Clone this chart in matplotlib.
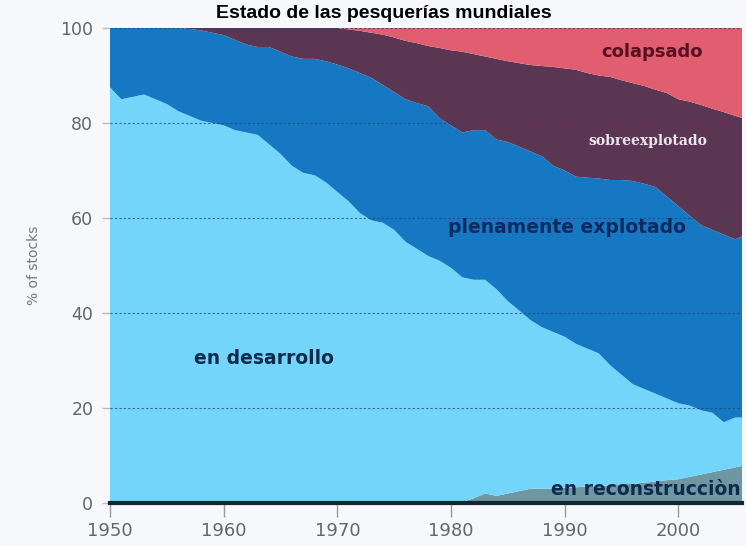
import matplotlib.pyplot as plt
import numpy as np

years = np.arange(1950, 2007)

# upper edge of each band, % of stocks (cumulative from the bottom)
top_reconstruccion = [0, 0, 0, 0, 0, 0, 0, 0, 0, 0,
                      0, 0, 0, 0, 0, 0, 0, 0, 0, 0,
                      0, 0, 0, 0, 0, 0, 0, 0, 0, 0,
                      0, 0.2, 1.0, 2.0, 1.5, 2.0, 2.5, 3.0, 3.0, 3.0,
                      3.2, 3.3, 3.5, 3.5, 3.8, 4.0, 4.0, 4.3, 4.5, 4.8,
                      5.0, 5.5, 6.0, 6.5, 7.0, 7.5, 8.0]
top_desarrollo = [87.5, 85, 85.5, 86, 85, 84, 82.5, 81.5, 80.5, 80,
                  79.5, 78.5, 78, 77.5, 75.5, 73.5, 71, 69.5, 69, 67.5,
                  65.5, 63.5, 61, 59.5, 59, 57.5, 55, 53.5, 52, 51,
                  49.5, 47.5, 47, 47, 45, 42.5, 40.5, 38.5, 37, 36,
                  35, 33.5, 32.5, 31.5, 29, 27, 25, 24, 23, 22,
                  21, 20.5, 19.5, 19, 17, 18, 18]
top_plenamente = [100, 100, 100, 100, 100, 100, 100, 99.8, 99.5, 99,
                  98.5, 97.5, 96.5, 96, 96, 95, 94, 93.5, 93.5, 93,
                  92.3, 91.5, 90.5, 89.5, 88, 86.5, 85, 84.2, 83.5, 81,
                  79.5, 78, 78.5, 78.5, 76.5, 76, 75, 74, 73, 71,
                  70, 68.7, 68.5, 68.3, 68, 68, 67.8, 67.2, 66.5, 64.5,
                  62.5, 60.5, 58.5, 57.5, 56.5, 55.5, 56.5]
top_sobreexplotado = [100, 100, 100, 100, 100, 100, 100, 100, 100, 100,
                      100, 100, 100, 100, 100, 100, 100, 100, 100, 100,
                      100, 99.7, 99.4, 99, 98.6, 98, 97.3, 96.8, 96.2, 95.8,
                      95.3, 95, 94.5, 94, 93.5, 93, 92.6, 92.2, 92, 91.8,
                      91.5, 91.2, 90.5, 90, 89.7, 89, 88.4, 87.8, 87, 86.3,
                      85, 84.5, 83.8, 83, 82.3, 81.5, 80.8]
top_colapsado = [100] * len(years)

edges = np.array([np.zeros(len(years)), top_reconstruccion, top_desarrollo,
                  top_plenamente, top_sobreexplotado, top_colapsado])
shares = np.diff(edges, axis=0)
colors = ['#6f97a2', '#74d5fb', '#1677c3', '#5a3652', '#e15d70']

fig = plt.figure(figsize=(7.46, 5.46), dpi=100, facecolor='#f6f8fb')
ax = fig.add_axes([110 / 746, 43 / 546, 632 / 746, 475 / 546])
ax.stackplot(years, shares, colors=colors, linewidth=0)

ax.set_xlim(1950, 2005.6)
ax.set_ylim(0, 100)
ax.set_xticks([1950, 1960, 1970, 1980, 1990, 2000])
ax.set_yticks([0, 20, 40, 60, 80, 100])
for v in [20, 40, 60, 80, 100]:
    ax.axhline(v, color='#244a72', lw=0.8, ls=(0, (2, 2)), alpha=0.8, zorder=3)

for s in ['top', 'right', 'left']:
    ax.spines[s].set_visible(False)
ax.spines['bottom'].set_color('#142433')
ax.spines['bottom'].set_linewidth(3)
ax.spines['bottom'].set_zorder(5)
ax.tick_params(axis='x', colors='#999999', length=10, width=1, labelsize=13,
               labelcolor='#666666', pad=4)
ax.tick_params(axis='y', colors='#bbbbbb', length=6, width=1, labelsize=12.5,
               labelcolor='#666666', pad=6)
ax.set_ylabel('% of stocks', color='#777777', fontsize=10, labelpad=14)

ax.text(1997.7, 95, 'colapsado', color='#5a0f22', fontsize=13,
        fontweight='bold', ha='center', va='center', zorder=6)
ax.text(1997.3, 76.3, 'sobreexplotado', color='#ece6ee', fontsize=10,
        family='DejaVu Serif', fontweight='bold', ha='center', va='center', zorder=6)
ax.text(1990.2, 58, 'plenamente explotado', color='#0e2a5c', fontsize=13.5,
        fontweight='bold', ha='center', va='center', zorder=6)
ax.text(1963.5, 30.5, 'en desarrollo', color='#0e2a4c', fontsize=13.5,
        fontweight='bold', ha='center', va='center', zorder=6)
ax.text(2005.5, 2.9, 'en reconstrucciòn', color='#0e2a4c', fontsize=13.5,
        fontweight='bold', ha='right', va='center', zorder=6)

fig.text(0.515, 1 - 18 / 546, 'Estado de las pesquerías mundiales', color='black',
         fontsize=14, fontweight='bold', ha='center', va='baseline',
         family='Liberation Sans')

fig.savefig('out.png', dpi=100, facecolor=fig.get_facecolor())
